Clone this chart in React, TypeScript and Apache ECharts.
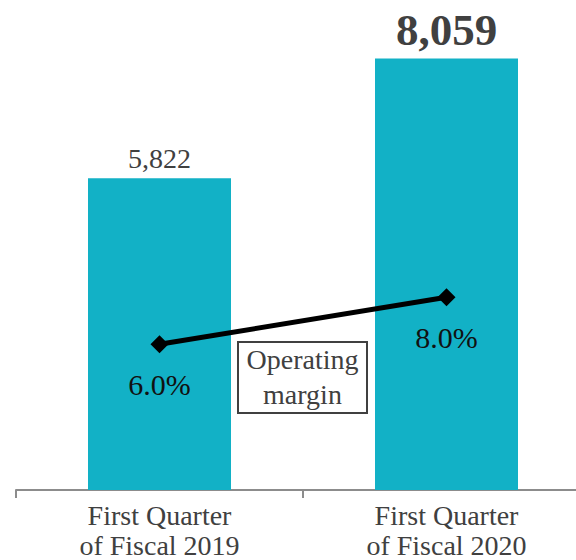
import React, { useEffect, useRef } from "react";
import * as echarts from "echarts";

const categories = ["First Quarter\nof Fiscal 2019", "First Quarter\nof Fiscal 2020"];
const revenue = [5822, 8059];
const margin = [6.0, 8.0];

const FONT = "'Liberation Serif', 'Times New Roman', serif";
const TEXT = "#404040";

export default function App() {
  const ref = useRef<HTMLDivElement>(null);
  useEffect(() => {
    if (!ref.current) return;
    const chart = echarts.init(ref.current, null, { renderer: "svg" });
    chart.setOption({
      animation: false,
      grid: { left: 16, top: 8, right: 10, bottom: 70 },
      xAxis: {
        type: "category",
        data: categories,
        axisLine: { lineStyle: { color: "#8c8c8c", width: 2 } },
        axisTick: { show: true, length: 8, lineStyle: { color: "#8c8c8c", width: 2 } },
        axisLabel: { color: TEXT, fontFamily: FONT, fontSize: 28, lineHeight: 30, margin: 10 },
      },
      yAxis: [
        { type: "value", min: 0, max: 9000, show: false, splitLine: { show: false } },
        { type: "value", min: -0.2, max: 20.3, show: false, splitLine: { show: false } },
      ],
      series: [
        {
          type: "bar",
          data: revenue.map((v, i) => ({
            value: v,
            label: i === 1
              ? { fontSize: 45, fontWeight: "bold", distance: 6 }
              : { fontSize: 28, fontWeight: "normal", distance: 6 },
          })),
          barWidth: 143,
          itemStyle: { color: "#12B1C6" },
          label: {
            show: true,
            position: "top",
            color: TEXT,
            fontFamily: FONT,
            formatter: (p: any) => p.value.toLocaleString("en-US"),
          },
        },
        {
          type: "line",
          yAxisIndex: 1,
          data: margin,
          symbol: "diamond",
          symbolSize: 18,
          lineStyle: { color: "#000", width: 5 },
          itemStyle: { color: "#000" },
          label: {
            show: true,
            position: "bottom",
            distance: 16,
            color: "#111",
            fontFamily: FONT,
            fontSize: 30,
            formatter: (p: any) => p.value.toFixed(1) + "%",
          },
        },
      ],
      graphic: [
        {
          type: "rect",
          shape: { x: 238, y: 342, width: 129, height: 71 },
          style: { fill: "#fff", stroke: TEXT, lineWidth: 2 },
        },
        {
          type: "text",
          x: 302.5,
          y: 377,
          style: {
            text: "Operating\nmargin",
            fill: TEXT,
            font: `28px ${FONT}`,
            lineHeight: 35,
            align: "center",
            verticalAlign: "middle",
          },
        },
      ],
    });
    return () => chart.dispose();
  }, []);
  return (
    <div
      ref={ref}
      style={{ position: "fixed", left: 0, top: 0, width: 600, height: 560, background: "#fff" }}
    />
  );
}
